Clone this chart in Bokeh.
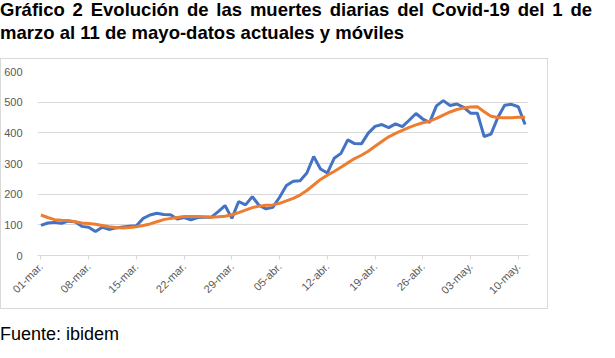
from bokeh.plotting import figure
from bokeh.models import Div, FixedTicker, ColumnDataSource, Range1d
from bokeh.layouts import column
from bokeh.embed import file_html
from bokeh.resources import INLINE
import math

# ---- data (1 Mar .. 11 May) ----
day_index = list(range(72))
muertes_diarias = [98, 106, 108, 105, 112, 110, 95, 92, 78, 92,
                   85, 90, 93, 95, 97, 121, 132, 138, 134, 133,
                   119, 124, 116, 124, 125, 125, 143, 163, 121, 176,
                   165, 192, 163, 152, 157, 190, 228, 242, 244, 269,
                   323, 282, 269, 317, 333, 377, 365, 364, 399, 421,
                   427, 417, 429, 420, 441, 463, 445, 434, 488, 505,
                   489, 494, 483, 464, 464, 388, 396, 450, 490, 493,
                   485, 427]
media_movil = [132, 124, 117, 115, 114, 110, 106, 104, 102, 98,
               94, 91, 90, 91, 94, 98, 103, 110, 117, 121,
               124, 127, 127, 127, 126, 125, 126, 128, 133, 140,
               148, 156, 161, 164, 165, 170, 178, 186, 197, 212,
               230, 248, 262, 274, 288, 302, 316, 327, 340, 356,
               372, 387, 398, 408, 418, 426, 433, 438, 447, 458,
               468, 476, 481, 484, 485, 469, 454, 450, 449, 449,
               451, 451]
tick_days = [0, 7, 14, 21, 28, 35, 42, 49, 56, 63, 70]
tick_labels = ["01-mar.", "08-mar.", "15-mar.", "22-mar.", "29-mar.", "05-abr.",
               "12-abr.", "19-abr.", "26-abr.", "03-may.", "10-may."]
y_ticks = [0, 100, 200, 300, 400, 500, 600]

FONT = "Liberation Sans"

src = ColumnDataSource(dict(x=day_index, actual=muertes_diarias, movil=media_movil))

p = figure(width=548, height=251, output_backend="svg", toolbar_location=None,
           x_range=Range1d(-0.5, 71.5), y_range=Range1d(0, 600),
           min_border_left=34, min_border_right=21, min_border_top=12, min_border_bottom=55,
           background_fill_color="white", border_fill_color="white", margin=(0, 0, 0, 0))
p.styles = {"border": "1px solid #d9d9d9"}
p.outline_line_color = None

p.line("x", "actual", source=src, line_color="#4472C4", line_width=3)
p.line("x", "movil", source=src, line_color="#ED7D31", line_width=3)

p.xgrid.grid_line_color = None
p.ygrid.grid_line_color = "#d9d9d9"
p.ygrid.grid_line_width = 1

p.yaxis.ticker = FixedTicker(ticks=y_ticks)
p.yaxis.axis_line_color = None
p.yaxis.major_tick_line_color = None
p.yaxis.minor_tick_line_color = None
p.yaxis.major_label_standoff = 9
p.yaxis.major_label_text_font = FONT
p.yaxis.major_label_text_font_size = "11px"
p.yaxis.major_label_text_color = "#595959"

p.xaxis.ticker = FixedTicker(ticks=tick_days)
p.xaxis.major_label_overrides = {d: l for d, l in zip(tick_days, tick_labels)}
p.xaxis.axis_line_color = "#d9d9d9"
p.xaxis.major_tick_line_color = "#d9d9d9"
p.xaxis.major_tick_in = 0
p.xaxis.major_tick_out = 4
p.xaxis.minor_tick_line_color = None
p.xaxis.major_label_orientation = math.pi / 4
p.xaxis.major_label_standoff = 5
p.xaxis.major_label_text_font = FONT
p.xaxis.major_label_text_font_size = "11px"
p.xaxis.major_label_text_color = "#595959"

title_html = (
    "<div style=\"font-family:'Liberation Sans',Arial,sans-serif;font-weight:bold;"
    "font-size:18.5px;line-height:23px;color:#000;margin-top:-2px;width:592px;\">"
    "<div style=\"text-align:justify;text-align-last:justify;white-space:nowrap;\">"
    "Gráfico 2 Evolución de las muertes diarias del Covid-19 del 1 de</div>"
    "<div>marzo al 11 de mayo-datos actuales y móviles</div></div>"
)
title_div = Div(text=title_html, width=592, height=58, margin=(0, 0, 0, 0))

footer_html = (
    "<div style=\"font-family:'Liberation Sans',Arial,sans-serif;font-size:18px;"
    "line-height:22px;color:#000;padding-top:14px;\">Fuente: ibidem</div>"
)
footer_div = Div(text=footer_html, width=300, height=36, margin=(0, 0, 0, 0))

layout = column(title_div, p, footer_div, spacing=0, margin=(0, 0, 0, 0))

open("out.html", "w").write(file_html(layout, INLINE))
